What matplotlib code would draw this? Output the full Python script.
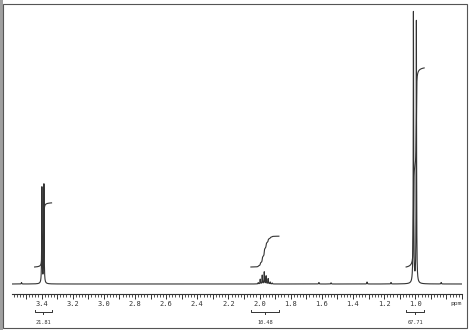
import numpy as np
import matplotlib
matplotlib.use("Agg")
import matplotlib.pyplot as plt
from matplotlib.ticker import MultipleLocator, FuncFormatter
from matplotlib.patches import Rectangle

# Picos del espectro (ppm, altura)
doblete_ch2_ppm = [3.398, 3.385]
doblete_ch2_alto = [96, 99]
multiplete_ppm = [2.009, 1.996, 1.983, 1.970, 1.958, 1.945, 1.932, 1.919]
multiplete_alto = [1.3, 4.7, 8.7, 12.0, 8.0, 5.3, 2.0, 1.0]
doblete_ch3_ppm = [1.012, 0.993]
doblete_ch3_alto = [271, 262]
impurezas_ppm = [3.529, 1.619, 1.541, 1.310, 1.156, 0.834]
impurezas_alto = [1.5, 1.5, 1.2, 2.0, 1.5, 1.5]

# Integrales
regiones = [(3.445, 3.336), (2.056, 1.876), (1.059, 0.943)]
integrales = [21.81, 10.48, 67.71]
etiquetas_int = ["21.81", "10.48", "67.71"]

gris = "#333333"

ppm = np.arange(3.59, 0.70, -0.0002)
ancho = 0.0015
todos_ppm = doblete_ch2_ppm + multiplete_ppm + doblete_ch3_ppm + impurezas_ppm
todos_alto = doblete_ch2_alto + multiplete_alto + doblete_ch3_alto + impurezas_alto
espectro = np.zeros_like(ppm)
for p, h in zip(todos_ppm, todos_alto):
    espectro += h * ancho**2 / ((ppm - p)**2 + ancho**2)

fig = plt.figure(figsize=(4.74, 3.30), dpi=100)
ax = fig.add_axes([12/474, 0, 450/474, 326/330])
ax.set_xlim(3.59, 0.70)
ax.set_ylim(-46, 280)
ax.patch.set_alpha(0)

ax.plot(ppm, espectro, color=gris, lw=0.8)

# curvas de integral
escala = 2.94
base = 17
for (a, b), val in zip(regiones, integrales):
    m = (ppm <= a) & (ppm >= b)
    cs = np.cumsum(espectro[m])
    ax.plot(ppm[m], base + val * escala * cs / cs[-1], color=gris, lw=0.8)
    # corchete debajo
    yb = -28
    ax.plot([a, a, b, b], [yb + 2, yb, yb, yb + 2], color=gris, lw=0.7, clip_on=False)
    ax.plot([(a + b) / 2] * 2, [yb, yb - 1.5], color=gris, lw=0.7, clip_on=False)

for (a, b), txt in zip(regiones, etiquetas_int):
    ax.text((a + b) / 2, -38, txt, fontsize=3.8, family="DejaVu Sans Mono",
            ha="center", va="center", color=gris)

# regla de ppm
for s in ["left", "right", "top"]:
    ax.spines[s].set_visible(False)
ax.spines["bottom"].set_position(("data", -10))
ax.spines["bottom"].set_linewidth(0.8)
ax.spines["bottom"].set_color(gris)
ax.set_yticks([])
ax.xaxis.set_major_locator(MultipleLocator(0.1))
ax.xaxis.set_minor_locator(MultipleLocator(0.02))
ax.xaxis.set_major_formatter(FuncFormatter(
    lambda v, pos: f"{v:.1f}" if round(v * 10) % 2 == 0 and 0.95 < v < 3.45 else ""))
ax.tick_params(axis="x", which="major", length=3.6, width=0.7, color=gris,
               pad=1.8, labelsize=5, labelcolor=gris)
ax.tick_params(axis="x", which="minor", length=2.2, width=0.6, color=gris)
for t in ax.get_xticklabels():
    t.set_family("DejaVu Sans Mono")
ax.text(0.738, -20, "ppm", fontsize=4.5, family="DejaVu Sans Mono",
        ha="center", va="center", color=gris)

# marco de la imagen
fig.add_artist(Rectangle((0, 0), 3/474, 1, transform=fig.transFigure,
                         color="#a0a0a0", lw=0))
fig.add_artist(Rectangle((3/474, 2/330), 464/474, 324/330, transform=fig.transFigure,
                         fill=False, edgecolor="#555555", lw=0.8))

fig.savefig("out.png", dpi=100)
